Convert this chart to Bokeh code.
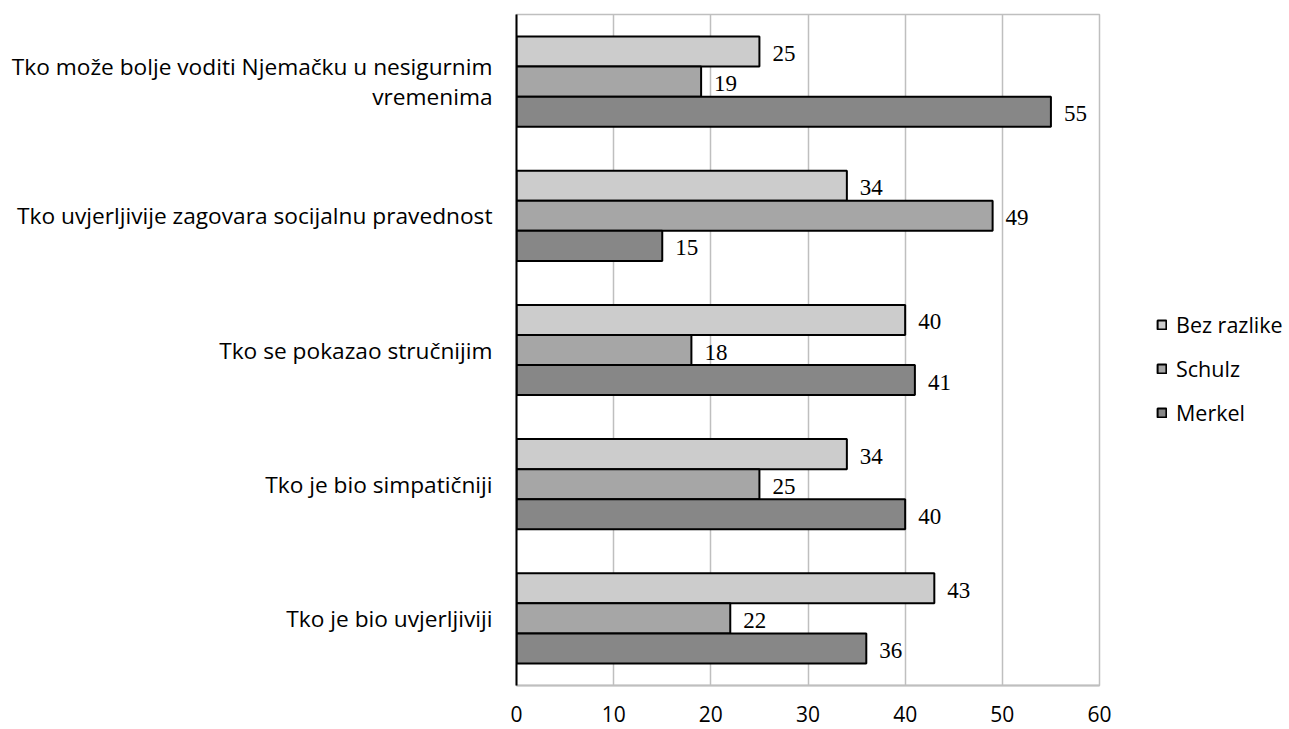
from bokeh.plotting import figure
from bokeh.models import ColumnDataSource, Legend, LegendItem, FixedTicker, FactorRange, Range1d
from bokeh.transform import dodge
from bokeh.core.properties import value
from bokeh.embed import file_html
from bokeh.resources import INLINE

categories = [
    "Tko može bolje voditi Njemačku u nesigurnim\nvremenima",
    "Tko uvjerljivije zagovara socijalnu pravednost",
    "Tko se pokazao stručnijim",
    "Tko je bio simpatičniji",
    "Tko je bio uvjerljiviji",
]
bez_razlike = [25, 34, 40, 34, 43]
schulz = [19, 49, 18, 25, 22]
merkel = [55, 15, 41, 40, 36]
series_names = ["Bez razlike", "Schulz", "Merkel"]
x_ticks = [0, 10, 20, 30, 40, 50, 60]

SANS = "Open Sans"
SERIF = "Liberation Serif"
colors = ["#CCCCCC", "#A6A6A6", "#878787"]
BAR_H = 0.224

src = ColumnDataSource(dict(
    cat=categories,
    bez=bez_razlike, sch=schulz, mer=merkel,
    bez_l=[str(v) for v in bez_razlike],
    sch_l=[str(v) for v in schulz],
    mer_l=[str(v) for v in merkel],
))

p = figure(
    frame_width=583, frame_height=671,
    y_range=FactorRange(*reversed(categories)),
    x_range=Range1d(0, 60),
    output_backend="svg", toolbar_location=None,
    min_border_left=516, min_border_right=176,
    min_border_top=14, min_border_bottom=41,
)
p.y_range.range_padding = 0

fields = ["bez", "sch", "mer"]
offsets = [BAR_H, 0.0, -BAR_H]
renderers = []
for f, off, c in zip(fields, offsets, colors):
    r = p.hbar(y=dodge("cat", off, range=p.y_range), left=0, right=f, height=BAR_H,
               fill_color=c, line_color="black", line_width=2, source=src)
    renderers.append(r)
    p.text(x=f, y=dodge("cat", off, range=p.y_range), text=f + "_l", source=src,
           x_offset=13, y_offset=2, text_align="left", text_baseline="middle",
           text_font=value(SERIF), text_font_size="23px", text_color="black")

# axes
p.xaxis.ticker = FixedTicker(ticks=x_ticks)
p.xaxis.major_tick_line_color = None
p.xaxis.minor_tick_line_color = None
p.xaxis.axis_line_color = "#BFBFBF"
p.xaxis.axis_line_width = 2
p.xaxis.major_label_text_font = SANS
p.xaxis.major_label_text_font_size = "21px"
p.xaxis.major_label_text_color = "black"
p.xaxis.major_label_standoff = 14

p.yaxis.major_tick_line_color = None
p.yaxis.minor_tick_line_color = None
p.yaxis.axis_line_color = "black"
p.yaxis.axis_line_width = 2
p.yaxis.major_label_text_font = SANS
p.yaxis.major_label_text_font_size = "22.7px"
p.yaxis.major_label_text_line_height = 0.95
p.yaxis.major_label_text_color = "black"
p.yaxis.major_label_standoff = 18

p.ygrid.grid_line_color = None
p.xgrid.ticker = FixedTicker(ticks=x_ticks)
p.xgrid.grid_line_color = "#BFBFBF"
p.xgrid.grid_line_width = 1.5
p.outline_line_color = "#BFBFBF"
p.outline_line_width = 1.5

legend = Legend(
    items=[LegendItem(label=n, renderers=[r]) for n, r in zip(series_names, renderers)],
    location=(57, 258), orientation="vertical",
    border_line_color=None, background_fill_alpha=0,
    padding=0, margin=0, spacing=15,
    glyph_width=11, glyph_height=11, label_height=20, label_standoff=9,
    label_text_font=SANS, label_text_font_size="21.5px", label_text_color="black",
)
p.add_layout(legend, "right")

open("out.html", "w").write(file_html(p, INLINE))
